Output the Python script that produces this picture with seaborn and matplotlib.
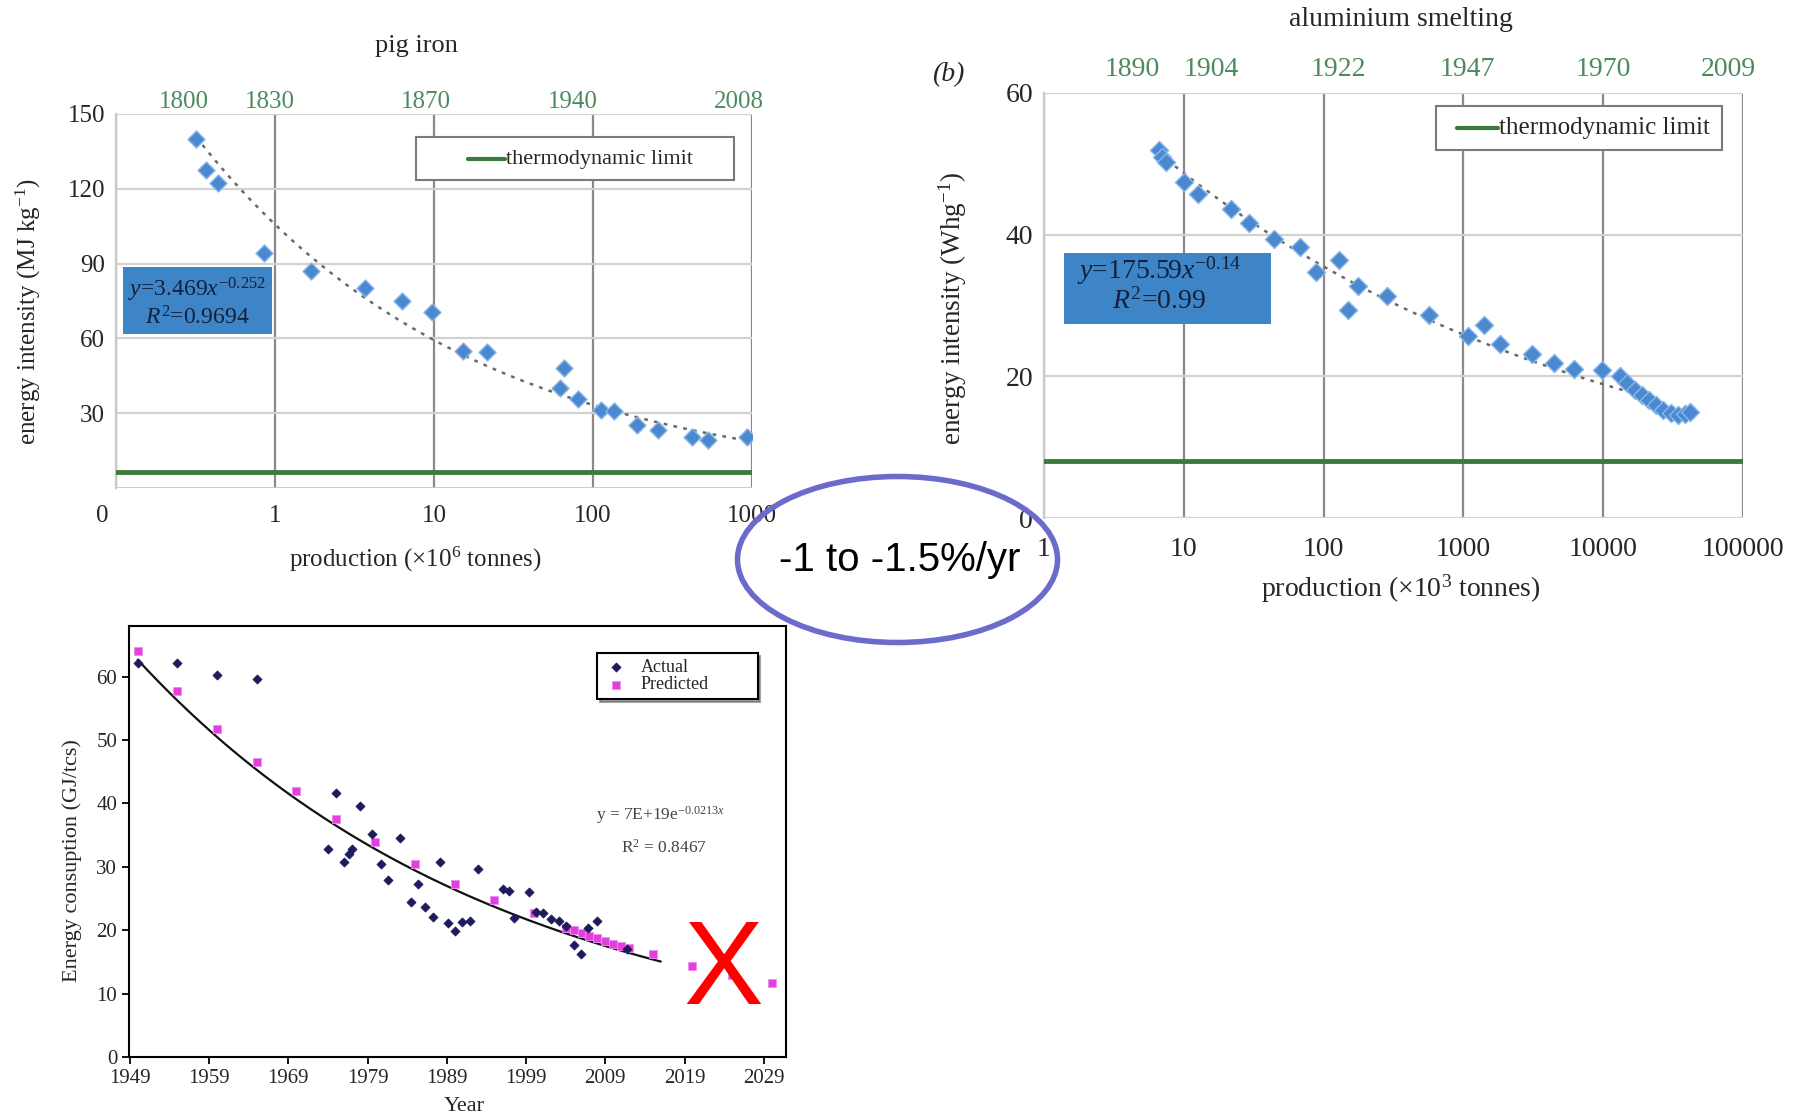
import numpy as np
import pandas as pd
import matplotlib
matplotlib.use("Agg")
import matplotlib.pyplot as plt
import seaborn as sns
from matplotlib.patches import Ellipse, Rectangle
from matplotlib.lines import Line2D
from matplotlib.ticker import NullLocator
from matplotlib.transforms import ScaledTranslation

# ---------------- data ----------------
# pig iron
iron_production = [0.32, 0.37, 0.44, 0.85, 1.68, 3.7, 6.3, 9.7, 15.2, 21.5,
                   62, 66, 80, 113, 136, 190, 255, 420, 525, 930]
iron_intensity = [140, 127.5, 122.3, 94.4, 87, 80.3, 75.1, 70.4, 54.8, 54.5,
                  40.3, 48.2, 35.6, 31.4, 30.7, 25.2, 23.3, 20.3, 19.3, 20.3]
iron_limit = 6.5
iron_xticks = [0.1, 1, 10, 100, 1000]
iron_xticklabels = ["0", "1", "10", "100", "1000"]
iron_yticks = [30, 60, 90, 120, 150]
iron_year_pos = [0.267, 0.93, 8.85, 75, 828]
iron_years = ["1800", "1830", "1870", "1940", "2008"]

# aluminium smelting
al_production = [6.7, 7.0, 7.5, 10, 12.7, 21.7, 29.4, 43.9, 68, 88, 129, 149,
                 177, 285, 566, 1084, 1403, 1817, 3096, 4414, 6166, 9800,
                 13180, 14860, 16750, 18880, 21280, 23950, 26970, 30400,
                 34200, 38550, 41700]
al_intensity = [52, 51, 50.3, 47.4, 45.7, 43.6, 41.7, 39.4, 38.2, 34.7, 36.4,
                29.4, 32.8, 31.4, 28.6, 25.7, 27.2, 24.6, 23.1, 21.9, 21.1,
                20.9, 20.0, 19.1, 18.1, 17.4, 16.7, 16.0, 15.3, 14.8, 14.6,
                14.7, 15.0]
al_limit = 8.0
al_xticks = [1, 10, 100, 1000, 10000, 100000]
al_xticklabels = ["1", "10", "100", "1000", "10000", "100000"]
al_yticks = [0, 20, 40, 60]
al_year_pos = [4.3, 15.7, 127, 1060, 9960, 78000]
al_years = ["1890", "1904", "1922", "1947", "1970", "2009"]

# steel energy consumption
actual_year = [1950, 1955, 1960, 1965, 1974, 1975, 1976, 1976.6, 1977, 1978,
               1979.6, 1980.7, 1981.6, 1983.1, 1984.5, 1985.4, 1986.3, 1987.3,
               1988.2, 1989.2, 1990, 1990.9, 1991.9, 1992.9, 1996.1, 1996.8,
               1997.5, 1999.4, 2000.2, 2001.2, 2002.2, 2003.1, 2004.1, 2005.1,
               2005.9, 2006.8, 2008, 2011.7]
actual_energy = [62.2, 62.1, 60.3, 59.7, 32.8, 41.7, 30.8, 32.1, 32.8, 39.6,
                 35.2, 30.4, 27.9, 34.6, 24.4, 27.3, 23.6, 22.1, 30.7, 21.1,
                 19.9, 21.3, 21.5, 29.6, 26.5, 26.2, 22.0, 26.1, 22.8, 22.7,
                 21.8, 21.4, 20.6, 17.7, 16.2, 20.3, 21.5, 17.0]
predicted_year = [1950, 1955, 1960, 1965, 1970, 1975, 1980, 1985, 1990, 1995,
                  2000, 2004, 2005, 2006, 2007, 2008, 2009, 2010, 2011, 2012,
                  2015, 2020, 2025, 2030]
predicted_energy = [64.0, 57.7, 51.8, 46.5, 41.9, 37.6, 33.9, 30.4, 27.3, 24.8,
                    22.7, 20.4, 20.0, 19.5, 19.1, 18.7, 18.3, 17.9, 17.5, 17.2,
                    16.2, 14.4, 13.0, 11.7]
steel_xticks = [1949, 1959, 1969, 1979, 1989, 1999, 2009, 2019, 2029]
steel_yticks = [0, 10, 20, 30, 40, 50, 60]

# ---------------- style ----------------
sns.set_theme(style="white")
plt.rcParams["font.family"] = ["Liberation Serif", "DejaVu Serif"]
plt.rcParams["mathtext.fontset"] = "custom"
plt.rcParams["mathtext.rm"] = "Liberation Serif"
plt.rcParams["mathtext.it"] = "Liberation Serif:italic"
plt.rcParams["mathtext.bf"] = "Liberation Serif:bold"

W, H = 1804, 1118
fig = plt.figure(figsize=(W / 100, H / 100), dpi=100)
fig.patch.set_facecolor("white")


def ax_rect(x0, y0, x1, y1):
    return [x0 / W, 1 - y1 / H, (x1 - x0) / W, (y1 - y0) / H]


MARK = "#4a89d0"
MARK_EDGE = "#8ab6e8"
GREEN = "#3b7a3b"
YEAR_GREEN = "#4d8a5e"
BOX = "#3d85c6"
BOX_TXT = "#14213d"

# ======== pig iron ========
ax1 = fig.add_axes(ax_rect(116, 114, 752, 488))
ax1.set_xscale("log")
ax1.set_xlim(0.1, 1000)
ax1.set_ylim(0, 150)
df_iron = pd.DataFrame({"production": iron_production, "intensity": iron_intensity})
# power-law trend from the data
b1, a1 = np.polyfit(np.log10(df_iron.production), np.log10(df_iron.intensity), 1)
xt1 = np.logspace(np.log10(min(iron_production)), np.log10(max(iron_production)), 100)
ax1.plot(xt1, 10 ** a1 * xt1 ** b1, ls=(0, (1.5, 2.5)), color="#6a6a6a", lw=1.8, zorder=2)
sns.scatterplot(data=df_iron, x="production", y="intensity", ax=ax1, marker="D",
                s=75, color=MARK, edgecolor=MARK_EDGE, linewidth=1, zorder=4, legend=False)
ax1.axhline(iron_limit, color=GREEN, lw=3.5, zorder=3)
ax1.set_xticks(iron_xticks, labels=iron_xticklabels)
ax1.xaxis.set_minor_locator(NullLocator())
ax1.set_yticks(iron_yticks)
ax1.tick_params(axis="x", length=0, pad=12, labelsize=18)
ax1.tick_params(axis="y", length=0, pad=8, labelsize=18)
zero_lab = ax1.get_xticklabels()[0]
zero_lab.set_transform(zero_lab.get_transform() + ScaledTranslation(-0.14, 0, fig.dpi_scale_trans))
ax1.set_xlabel("")
ax1.set_ylabel("")
ax1.grid(axis="y", color="#d2d2d2", lw=1.6)
ax1.grid(axis="x", color="#8a8a8a", lw=1.6)
ax1.axhline(0, color="#c8c8c8", lw=2, zorder=1)
for s in ["top", "right"]:
    ax1.spines[s].set_visible(False)
ax1.spines["bottom"].set_visible(False)
ax1.spines["left"].set_color("#c8c8c8")
ax1.spines["left"].set_linewidth(1.6)
sec1 = ax1.secondary_xaxis("top")
sec1.set_xticks(iron_year_pos, labels=iron_years)
sec1.xaxis.set_minor_locator(NullLocator())
sec1.tick_params(length=0, pad=1, labelsize=18, labelcolor=YEAR_GREEN)
sec1.spines["top"].set_visible(False)
ax1.text(-0.137, 0.473, "energy intensity (MJ kg$^{-1}$)", transform=ax1.transAxes,
         rotation=90, ha="center", va="center", fontsize=18)
ax1.text(0.471, -0.19, "production (\u00d710$^{6}$ tonnes)", transform=ax1.transAxes,
         ha="center", va="center", fontsize=18)
fig.text(416 / W, 1 - 46 / H, "pig iron", ha="center", va="center", fontsize=19)
# equation box
ax1.add_patch(Rectangle((0.011, 0.412), 0.234, 0.179, transform=ax1.transAxes,
                        facecolor=BOX, edgecolor="none", zorder=5))
ax1.text(0.128, 0.530, "$y$=3.469$x^{-0.252}$", transform=ax1.transAxes, ha="center",
         va="center", fontsize=17, color=BOX_TXT, zorder=6)
ax1.text(0.128, 0.455, "$R^{2}$=0.9694", transform=ax1.transAxes, ha="center",
         va="center", fontsize=17, color=BOX_TXT, zorder=6)
# legend box
ax1.add_patch(Rectangle((0.471, 0.8235), 0.50, 0.115, transform=ax1.transAxes,
                        facecolor="white", edgecolor="#7a7a7a", lw=1.5, zorder=5))
ax1.add_line(Line2D([0.553, 0.611], [0.879, 0.879], transform=ax1.transAxes,
                    color=GREEN, lw=3, zorder=6))
ax1.text(0.613, 0.879, "thermodynamic limit", transform=ax1.transAxes, ha="left",
         va="center", fontsize=16, zorder=6)

# ======== aluminium ========
ax2 = fig.add_axes(ax_rect(1044, 93, 1743, 518))
ax2.set_xscale("log")
ax2.set_xlim(1, 100000)
ax2.set_ylim(0, 60)
df_al = pd.DataFrame({"production": al_production, "intensity": al_intensity})
b2, a2 = np.polyfit(np.log10(df_al.production), np.log10(df_al.intensity), 1)
xt2 = np.logspace(np.log10(min(al_production)), np.log10(15000), 100)
ax2.plot(xt2, 10 ** a2 * xt2 ** b2, ls=(0, (1.5, 2.5)), color="#6a6a6a", lw=1.8, zorder=2)
sns.scatterplot(data=df_al, x="production", y="intensity", ax=ax2, marker="D",
                s=85, color=MARK, edgecolor=MARK_EDGE, linewidth=1, zorder=4, legend=False)
ax2.axhline(al_limit, color=GREEN, lw=3.5, zorder=3)
ax2.set_xticks(al_xticks, labels=al_xticklabels)
ax2.xaxis.set_minor_locator(NullLocator())
ax2.set_yticks(al_yticks)
ax2.tick_params(axis="x", length=0, pad=14, labelsize=20)
ax2.tick_params(axis="y", length=0, pad=8, labelsize=20)
ax2.set_xlabel("")
ax2.set_ylabel("")
ax2.grid(axis="y", color="#d2d2d2", lw=1.6)
ax2.grid(axis="x", color="#8a8a8a", lw=1.6)
for s in ["top", "right", "bottom"]:
    ax2.spines[s].set_visible(False)
ax2.spines["left"].set_color("#c8c8c8")
ax2.spines["left"].set_linewidth(1.6)
sec2 = ax2.secondary_xaxis("top")
sec2.set_xticks(al_year_pos, labels=al_years)
sec2.xaxis.set_minor_locator(NullLocator())
sec2.tick_params(length=0, pad=8, labelsize=20, labelcolor=YEAR_GREEN)
sec2.spines["top"].set_visible(False)
ax2.text(-0.130, 0.494, "energy intensity (Whg$^{-1}$)", transform=ax2.transAxes,
         rotation=90, ha="center", va="center", fontsize=19.5)
ax2.text(0.511, -0.167, "production (\u00d710$^{3}$ tonnes)", transform=ax2.transAxes,
         ha="center", va="center", fontsize=20)
fig.text(1401 / W, 1 - 20 / H, "aluminium smelting", ha="center", va="center", fontsize=20)
fig.text(948 / W, 1 - 75 / H, "(b)", ha="center", va="center", fontsize=20, style="italic")
ax2.add_patch(Rectangle((0.0286, 0.4565), 0.296, 0.167, transform=ax2.transAxes,
                        facecolor=BOX, edgecolor="none", zorder=5))
ax2.text(0.165, 0.582, "$y$=175.59$x^{-0.14}$", transform=ax2.transAxes, ha="center",
         va="center", fontsize=20, color=BOX_TXT, zorder=6)
ax2.text(0.165, 0.510, "$R^{2}$=0.99", transform=ax2.transAxes, ha="center",
         va="center", fontsize=20, color=BOX_TXT, zorder=6)
ax2.add_patch(Rectangle((0.561, 0.866), 0.409, 0.103, transform=ax2.transAxes,
                        facecolor="white", edgecolor="#7a7a7a", lw=1.5, zorder=5))
ax2.add_line(Line2D([0.591, 0.649], [0.918, 0.918], transform=ax2.transAxes,
                    color=GREEN, lw=3, zorder=6))
ax2.text(0.651, 0.918, "thermodynamic limit", transform=ax2.transAxes, ha="left",
         va="center", fontsize=18, zorder=6)

# ======== steel (bottom) ========
ax3 = fig.add_axes(ax_rect(129, 626, 786, 1057))
ax3.set_xlim(1948.9, 2031.8)
ax3.set_ylim(0, 68)
df_act = pd.DataFrame({"Year": actual_year, "energy": actual_energy, "series": "Actual"})
df_pred = pd.DataFrame({"Year": predicted_year, "energy": predicted_energy, "series": "Predicted"})
# exponential trend fitted to the actual data
k, c = np.polyfit(df_act.Year, np.log(df_act.energy), 1)
xt3 = np.linspace(1950, 2016, 200)
ax3.plot(xt3, np.exp(c + k * xt3), color="#111111", lw=1.6, zorder=2)
sns.scatterplot(data=df_pred, x="Year", y="energy", ax=ax3, marker="s", s=32,
                color="#e23ee0", edgecolor="#f08cf0", linewidth=0.6, zorder=3,
                label="Predicted")
sns.scatterplot(data=df_act, x="Year", y="energy", ax=ax3, marker="D", s=22,
                color="#1c1c5c", edgecolor="#1c1c5c", linewidth=0.5, zorder=4,
                label="Actual")
handles, labels = ax3.get_legend_handles_labels()
order = [labels.index("Actual"), labels.index("Predicted")]
leg = ax3.legend([handles[i] for i in order], [labels[i] for i in order],
                 loc="upper left", bbox_to_anchor=(0.713, 0.937 - 0.1, 0.2437, 0.1),
                 mode="expand", frameon=True, fancybox=False, shadow=True,
                 fontsize=13, labelspacing=0.05, handletextpad=0.6,
                 borderpad=0.3, borderaxespad=0, handlelength=1.5)
leg.get_frame().set_edgecolor("black")
leg.get_frame().set_linewidth(1.5)
ax3.set_xticks(steel_xticks)
ax3.set_yticks(steel_yticks)
ax3.tick_params(axis="both", direction="out", length=5, width=1.3, labelsize=15,
                bottom=True, left=True, color="black")
for s in ax3.spines.values():
    s.set_color("black")
    s.set_linewidth(1.5)
ax3.set_xlabel("")
ax3.set_ylabel("")
ax3.text(-0.087, 0.455, "Energy consuption (GJ/tcs)", transform=ax3.transAxes,
         rotation=90, ha="center", va="center", fontsize=16)
ax3.text(0.511, -0.116, "Year", transform=ax3.transAxes, ha="center", va="center",
         fontsize=16)
ax3.text(0.809, 0.561, "y = 7E+19e$^{-0.0213x}$", transform=ax3.transAxes,
         ha="center", va="center", fontsize=12.5, color="#444444")
ax3.text(0.815, 0.485, "R$^{2}$ = 0.8467", transform=ax3.transAxes,
         ha="center", va="center", fontsize=12.5, color="#444444")

# ======== annotations ========
fig.text(723 / W, 1 - 974 / H, "X", ha="center", va="center", fontsize=86,
         color="#ff0000", family=["Liberation Sans Narrow", "Liberation Sans", "DejaVu Sans"],
         zorder=10)
fig.add_artist(Ellipse((897.5 / W, 1 - 559.5 / H), 320 / W, 166 / H,
                       transform=fig.transFigure, facecolor="none",
                       edgecolor="#6b6bcc", lw=4, zorder=10))
fig.text(900 / W, 1 - 560 / H, "-1 to -1.5%/yr", ha="center", va="center",
         fontsize=29, color="black", family=["Liberation Sans", "DejaVu Sans"], zorder=11)

fig.savefig("out.png", dpi=100, facecolor="white")
